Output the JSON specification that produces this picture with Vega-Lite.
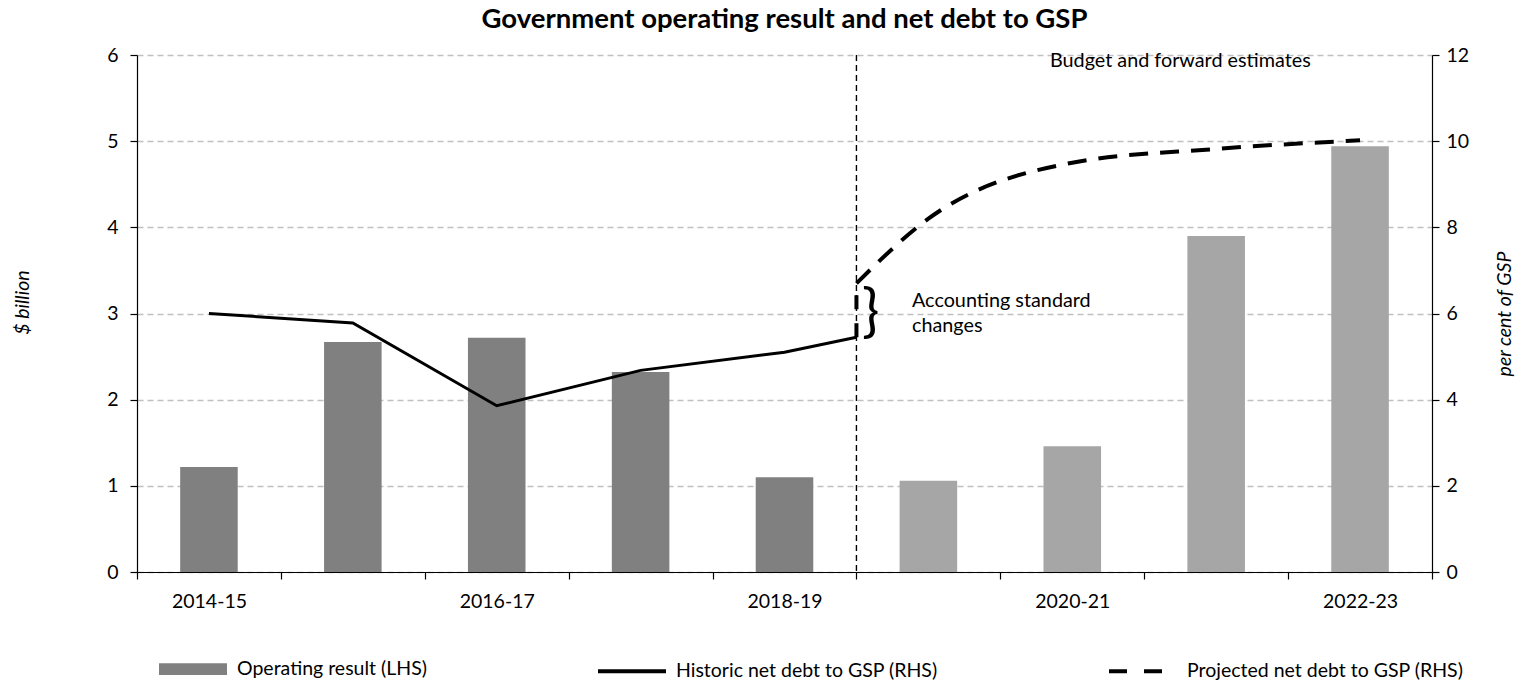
{
  "$schema": "https://vega.github.io/schema/vega-lite/v6.json",
  "autosize": "none",
  "width": 1295,
  "height": 517,
  "padding": {"left": 137, "top": 55, "right": 88, "bottom": 108},
  "background": "white",
  "config": {
    "font": "Lato",
    "view": {"stroke": null},
    "axis": {"labelFont": "Lato", "titleFont": "Lato", "labelColor": "black", "titleColor": "black", "domainColor": "black", "tickColor": "black", "labelFontSize": 19.5, "titleFontSize": 19.5, "titleFontWeight": "normal", "titleFontStyle": "italic", "domainWidth": 1.2, "tickWidth": 1.2, "tickSize": 7},
    "legend": {"labelFont": "Lato", "labelFontSize": 19.5, "labelColor": "black"}
  },
  "title": {"text": "Government operating result and net debt to GSP", "font": "Lato", "fontSize": 27.5, "fontWeight": "bold", "color": "black", "dx": 0, "offset": 12},
  "datasets": {
    "bars": [
      {"year": "2014-15", "op": 1.22, "kind": "Actual", "series": "Operating result (LHS)"},
      {"year": "2015-16", "op": 2.67, "kind": "Actual", "series": "Operating result (LHS)"},
      {"year": "2016-17", "op": 2.72, "kind": "Actual", "series": "Operating result (LHS)"},
      {"year": "2017-18", "op": 2.32, "kind": "Actual", "series": "Operating result (LHS)"},
      {"year": "2018-19", "op": 1.10, "kind": "Actual", "series": "Operating result (LHS)"},
      {"year": "2019-20", "op": 1.06, "kind": "Estimate", "series": "Operating result (LHS)"},
      {"year": "2020-21", "op": 1.46, "kind": "Estimate", "series": "Operating result (LHS)"},
      {"year": "2021-22", "op": 3.90, "kind": "Estimate", "series": "Operating result (LHS)"},
      {"year": "2022-23", "op": 4.94, "kind": "Estimate", "series": "Operating result (LHS)"}
    ],
    "historic": [
      {"fy": 2015, "pct": 6.0},
      {"fy": 2016, "pct": 5.78},
      {"fy": 2017, "pct": 3.86},
      {"fy": 2018, "pct": 4.68},
      {"fy": 2019, "pct": 5.1},
      {"fy": 2019.5, "pct": 5.45}
    ],
    "projected": [
      {"fy": 2019.5, "pct": 6.7},
      {"fy": 2020, "pct": 8.2},
      {"fy": 2021, "pct": 9.5},
      {"fy": 2022, "pct": 9.82},
      {"fy": 2023, "pct": 10.02}
    ],
    "changes": [
      {"fy": 2019.5, "before": 5.45, "after": 6.7}
    ],
    "notes": [
      {"label": "Budget and forward estimates"}
    ]
  },
  "layer": [
    {
      "data": {"name": "bars"},
      "mark": {"type": "bar", "width": {"band": 0.4}},
      "encoding": {
        "x": {"field": "year", "type": "ordinal", "sort": null,
          "scale": {"paddingInner": 0, "paddingOuter": 0},
          "axis": {"title": null, "tickBand": "extent", "labelAngle": 0, "labelPadding": 13,
            "labelExpr": "indexof(['2014-15','2016-17','2018-19','2020-21','2022-23'], datum.value) >= 0 ? datum.value : ''"}},
        "y": {"field": "op", "type": "quantitative", "scale": {"domain": [0, 6]},
          "axis": {"title": "$ billion", "values": [0, 1, 2, 3, 4, 5, 6], "labelPadding": 12, "titlePadding": 74, "titleY": 247,
            "grid": true, "gridColor": "#c0c0c0", "gridDash": [6, 4], "gridWidth": 1.5}},
        "color": {
          "condition": {"test": "datum.kind === 'Estimate'", "value": "#a6a6a6"},
          "field": "series", "type": "nominal",
          "scale": {"domain": ["Operating result (LHS)", "Historic net debt to GSP (RHS)", "Projected net debt to GSP (RHS)"], "range": ["#808080", "black", "black"]},
          "legend": {"title": null, "orient": "none", "legendX": 20, "legendY": 578, "direction": "horizontal", "columns": 3, "gridAlign": "each", "columnPadding": 163, "symbolSize": 4624, "symbolType": "stroke", "labelOffset": 8, "labelLimit": 500, "padding": 0,
            "encode": {"symbols": {"update": {
              "shape": {"signal": "datum.value === 'Operating result (LHS)' ? 'M-1,-0.17H1V0.17H-1Z' : 'stroke'"},
              "fill": {"signal": "datum.value === 'Operating result (LHS)' ? '#808080' : 'transparent'"},
              "stroke": {"signal": "datum.value === 'Operating result (LHS)' ? 'transparent' : 'black'"},
              "strokeWidth": {"value": 4},
              "strokeDash": {"signal": "datum.value === 'Projected net debt to GSP (RHS)' ? [18, 17] : [1, 0]"}
            }}}}
        }
      }
    },
    {
      "layer": [
        {
          "data": {"name": "historic"},
          "mark": {"type": "line", "color": "black", "strokeWidth": 3},
          "encoding": {
            "x": {"field": "fy", "type": "quantitative", "scale": {"domain": [2014.5, 2023.5], "nice": false, "zero": false}, "axis": null},
            "y": {"field": "pct", "type": "quantitative", "scale": {"domain": [0, 12]},
              "axis": {"orient": "right", "title": "per cent of GSP", "values": [0, 2, 4, 6, 8, 10, 12], "grid": false, "labelPadding": 7, "titleAngle": -90, "titlePadding": 46}}
          }
        },
        {
          "data": {"name": "changes"},
          "mark": {"type": "rule", "color": "black", "strokeWidth": 1.4, "strokeDash": [6, 4]},
          "encoding": {"x": {"field": "fy", "type": "quantitative"}}
        },
        {
          "data": {"name": "changes"},
          "mark": {"type": "rule", "color": "black", "strokeWidth": 4, "strokeDash": [14, 14]},
          "encoding": {
            "x": {"field": "fy", "type": "quantitative"},
            "y": {"field": "before", "type": "quantitative"},
            "y2": {"field": "after"}
          }
        },
        {
          "data": {"name": "projected"},
          "mark": {"type": "line", "color": "black", "strokeWidth": 4, "strokeDash": [19, 12], "interpolate": "monotone"},
          "encoding": {
            "x": {"field": "fy", "type": "quantitative"},
            "y": {"field": "pct", "type": "quantitative"}
          }
        },
        {
          "data": {"name": "notes"},
          "mark": {"type": "text", "text": "Budget and forward estimates", "align": "left", "baseline": "middle", "fontSize": 19.8, "font": "Lato"},
          "encoding": {"x": {"datum": 2020.845, "type": "quantitative"}, "y": {"datum": 11.85, "type": "quantitative"}}
        },
        {
          "data": {"name": "notes"},
          "mark": {"type": "text", "text": ["Accounting standard", "changes"], "align": "left", "baseline": "middle", "fontSize": 19.8, "lineHeight": 25, "font": "Lato"},
          "encoding": {"x": {"datum": 2019.886, "type": "quantitative"}, "y": {"datum": 6.3, "type": "quantitative"}}
        },
        {
          "data": {"name": "notes"},
          "mark": {"type": "text", "text": "}", "align": "center", "baseline": "middle", "fontSize": 58, "font": "Lato"},
          "encoding": {"x": {"datum": 2019.6, "type": "quantitative"}, "y": {"datum": 5.98, "type": "quantitative"}}
        }
      ]
    }
  ],
  "resolve": {"scale": {"x": "independent", "y": "independent"}}
}
